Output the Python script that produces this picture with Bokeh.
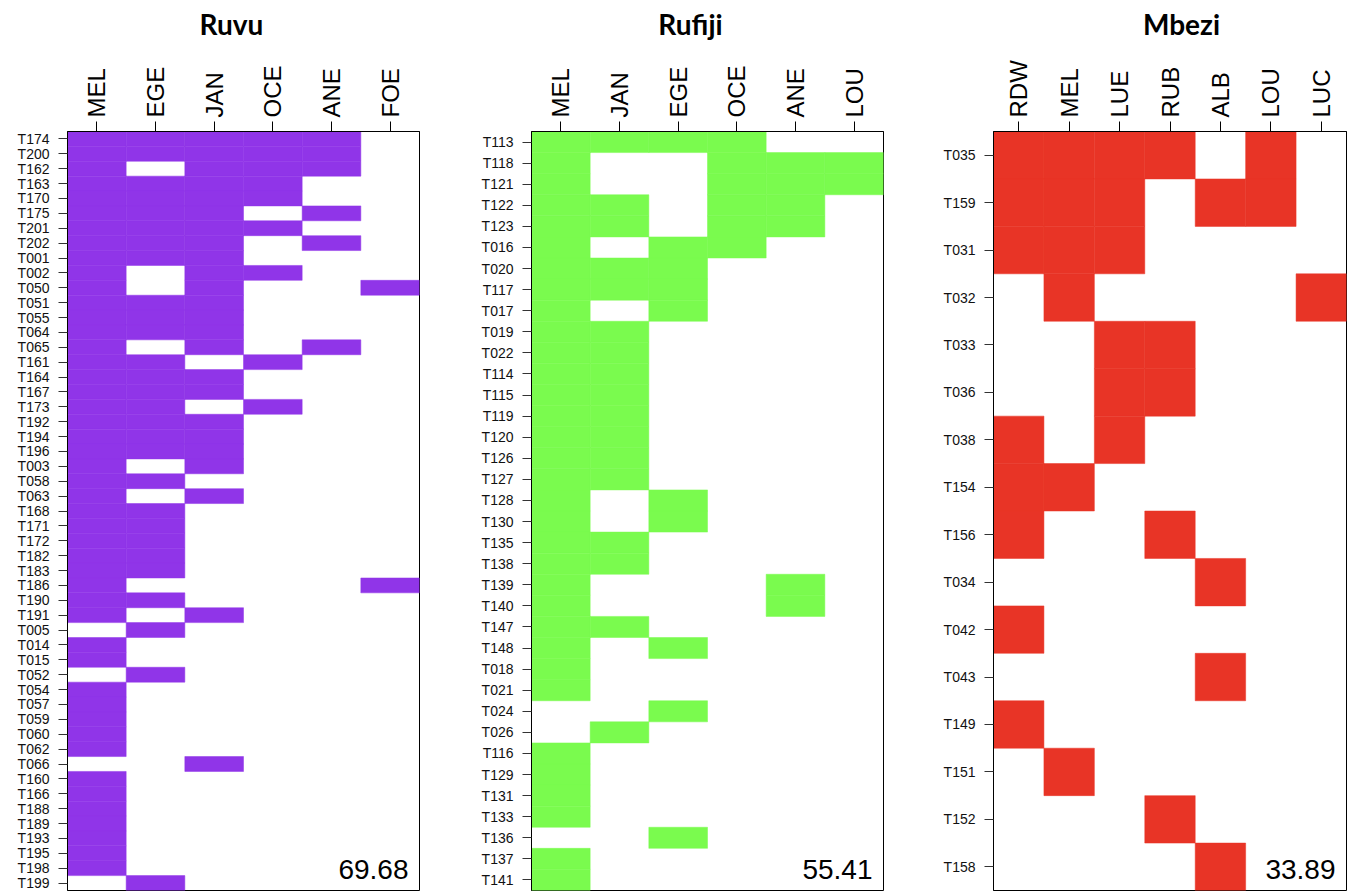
from bokeh.plotting import figure
from bokeh.models import FactorRange, Label, Range1d
from bokeh.layouts import row, column
from bokeh.embed import file_html
from bokeh.resources import INLINE
from bokeh.core.properties import value

# ---------------- data ----------------
ruvu_cols = ["MEL", "EGE", "JAN", "OCE", "ANE", "FOE"]
ruvu_rows = ["T174", "T200", "T162", "T163", "T170", "T175", "T201", "T202", "T001", "T002",
             "T050", "T051", "T055", "T064", "T065", "T161", "T164", "T167", "T173", "T192",
             "T194", "T196", "T003", "T058", "T063", "T168", "T171", "T172", "T182", "T183",
             "T186", "T190", "T191", "T005", "T014", "T015", "T052", "T054", "T057", "T059",
             "T060", "T062", "T066", "T160", "T166", "T188", "T189", "T193", "T195", "T198",
             "T199"]
ruvu_cells = [
    [1, 1, 1, 1, 1, 0], [1, 1, 1, 1, 1, 0], [1, 0, 1, 1, 1, 0], [1, 1, 1, 1, 0, 0],
    [1, 1, 1, 1, 0, 0], [1, 1, 1, 0, 1, 0], [1, 1, 1, 1, 0, 0], [1, 1, 1, 0, 1, 0],
    [1, 1, 1, 0, 0, 0], [1, 0, 1, 1, 0, 0], [1, 0, 1, 0, 0, 1], [1, 1, 1, 0, 0, 0],
    [1, 1, 1, 0, 0, 0], [1, 1, 1, 0, 0, 0], [1, 0, 1, 0, 1, 0], [1, 1, 0, 1, 0, 0],
    [1, 1, 1, 0, 0, 0], [1, 1, 1, 0, 0, 0], [1, 1, 0, 1, 0, 0], [1, 1, 1, 0, 0, 0],
    [1, 1, 1, 0, 0, 0], [1, 1, 1, 0, 0, 0], [1, 0, 1, 0, 0, 0], [1, 1, 0, 0, 0, 0],
    [1, 0, 1, 0, 0, 0], [1, 1, 0, 0, 0, 0], [1, 1, 0, 0, 0, 0], [1, 1, 0, 0, 0, 0],
    [1, 1, 0, 0, 0, 0], [1, 1, 0, 0, 0, 0], [1, 0, 0, 0, 0, 1], [1, 1, 0, 0, 0, 0],
    [1, 0, 1, 0, 0, 0], [0, 1, 0, 0, 0, 0], [1, 0, 0, 0, 0, 0], [1, 0, 0, 0, 0, 0],
    [0, 1, 0, 0, 0, 0], [1, 0, 0, 0, 0, 0], [1, 0, 0, 0, 0, 0], [1, 0, 0, 0, 0, 0],
    [1, 0, 0, 0, 0, 0], [1, 0, 0, 0, 0, 0], [0, 0, 1, 0, 0, 0], [1, 0, 0, 0, 0, 0],
    [1, 0, 0, 0, 0, 0], [1, 0, 0, 0, 0, 0], [1, 0, 0, 0, 0, 0], [1, 0, 0, 0, 0, 0],
    [1, 0, 0, 0, 0, 0], [1, 0, 0, 0, 0, 0], [0, 1, 0, 0, 0, 0],
]
ruvu_value = "69.68"

rufiji_cols = ["MEL", "JAN", "EGE", "OCE", "ANE", "LOU"]
rufiji_rows = ["T113", "T118", "T121", "T122", "T123", "T016", "T020", "T117", "T017", "T019",
               "T022", "T114", "T115", "T119", "T120", "T126", "T127", "T128", "T130", "T135",
               "T138", "T139", "T140", "T147", "T148", "T018", "T021", "T024", "T026", "T116",
               "T129", "T131", "T133", "T136", "T137", "T141"]
rufiji_cells = [
    [1, 1, 1, 1, 0, 0], [1, 0, 0, 1, 1, 1], [1, 0, 0, 1, 1, 1], [1, 1, 0, 1, 1, 0],
    [1, 1, 0, 1, 1, 0], [1, 0, 1, 1, 0, 0], [1, 1, 1, 0, 0, 0], [1, 1, 1, 0, 0, 0],
    [1, 0, 1, 0, 0, 0], [1, 1, 0, 0, 0, 0], [1, 1, 0, 0, 0, 0], [1, 1, 0, 0, 0, 0],
    [1, 1, 0, 0, 0, 0], [1, 1, 0, 0, 0, 0], [1, 1, 0, 0, 0, 0], [1, 1, 0, 0, 0, 0],
    [1, 1, 0, 0, 0, 0], [1, 0, 1, 0, 0, 0], [1, 0, 1, 0, 0, 0], [1, 1, 0, 0, 0, 0],
    [1, 1, 0, 0, 0, 0], [1, 0, 0, 0, 1, 0], [1, 0, 0, 0, 1, 0], [1, 1, 0, 0, 0, 0],
    [1, 0, 1, 0, 0, 0], [1, 0, 0, 0, 0, 0], [1, 0, 0, 0, 0, 0], [0, 0, 1, 0, 0, 0],
    [0, 1, 0, 0, 0, 0], [1, 0, 0, 0, 0, 0], [1, 0, 0, 0, 0, 0], [1, 0, 0, 0, 0, 0],
    [1, 0, 0, 0, 0, 0], [0, 0, 1, 0, 0, 0], [1, 0, 0, 0, 0, 0], [1, 0, 0, 0, 0, 0],
]
rufiji_value = "55.41"

mbezi_cols = ["RDW", "MEL", "LUE", "RUB", "ALB", "LOU", "LUC"]
mbezi_rows = ["T035", "T159", "T031", "T032", "T033", "T036", "T038", "T154", "T156", "T034",
              "T042", "T043", "T149", "T151", "T152", "T158"]
mbezi_cells = [
    [1, 1, 1, 1, 0, 1, 0], [1, 1, 1, 0, 1, 1, 0], [1, 1, 1, 0, 0, 0, 0], [0, 1, 0, 0, 0, 0, 1],
    [0, 0, 1, 1, 0, 0, 0], [0, 0, 1, 1, 0, 0, 0], [1, 0, 1, 0, 0, 0, 0], [1, 1, 0, 0, 0, 0, 0],
    [1, 0, 0, 1, 0, 0, 0], [0, 0, 0, 0, 1, 0, 0], [1, 0, 0, 0, 0, 0, 0], [0, 0, 0, 0, 1, 0, 0],
    [1, 0, 0, 0, 0, 0, 0], [0, 1, 0, 0, 0, 0, 0], [0, 0, 0, 1, 0, 0, 0], [0, 0, 0, 0, 1, 0, 0],
]
mbezi_value = "33.89"

panel_titles = ["Ruvu", "Rufiji", "Mbezi"]
panel_colors = ["#9035E8", "#7AFB4E", "#E83426"]

FRAME_H = 759
TITLE_H = 50
TOP = 81   # border above frame inside the heatmap figure (frame top at 131 on page)


def make_title(title, title_x, width):
    t = figure(width=width, height=TITLE_H, x_range=Range1d(0, width), y_range=Range1d(0, TITLE_H),
               x_axis_type=None, y_axis_type=None, toolbar_location=None, tools="",
               min_border=0, output_backend="svg", border_fill_color="white")
    t.outline_line_color = None
    t.xgrid.grid_line_color = None
    t.ygrid.grid_line_color = None
    t.text(x=[title_x], y=[TITLE_H - 23], text=[title], text_font=value("Lato"),
           text_font_style="bold", text_font_size=value("28px"), text_color="black",
           text_align="center", text_baseline="middle")
    return t


def make_panel(cols, rows, cells, color, val, left, frame_w, right):
    p = figure(x_range=FactorRange(factors=cols), y_range=FactorRange(factors=rows[::-1]),
               frame_width=frame_w, frame_height=FRAME_H, title=None,
               min_border_left=left, min_border_right=right,
               min_border_top=TOP, min_border_bottom=1,
               x_axis_location="above", toolbar_location=None, tools="",
               output_backend="svg", background_fill_color="white",
               border_fill_color="white")
    xs, ys = [], []
    for r, vals in zip(rows, cells):
        for c, v in zip(cols, vals):
            if v:
                xs.append(c)
                ys.append(r)
    p.rect(x=xs, y=ys, width=1, height=1, fill_color=color,
           line_color=color, line_width=0.5)

    p.xgrid.grid_line_color = None
    p.ygrid.grid_line_color = None
    p.outline_line_color = "black"
    p.outline_line_width = 1
    p.outline_line_alpha = 1

    ax = p.xaxis[0]
    ax.major_label_orientation = "vertical"
    ax.major_tick_out = 10
    ax.major_tick_in = 0
    ax.major_label_standoff = 4
    ax.major_label_text_font = "Liberation Sans"
    ax.major_label_text_font_size = "24px"
    ax.major_label_text_color = "black"
    ax.axis_line_color = "black"
    ax.major_tick_line_color = "black"

    ay = p.yaxis[0]
    ay.major_tick_out = 9
    ay.major_tick_in = 0
    ay.major_label_standoff = 9
    ay.major_label_text_font = "Liberation Sans"
    ay.major_label_text_font_size = "14px"
    ay.major_label_text_color = "#111111"
    ay.axis_line_color = "black"
    ay.major_tick_line_color = "#333333"

    # statistic in the lower right corner
    p.add_layout(Label(x=len(cols), y=0, x_offset=-11, y_offset=21,
                       text=val, text_align="right", text_baseline="middle",
                       text_font="Liberation Sans", text_font_size="28px",
                       text_color="black"))
    return p


t1 = make_title(panel_titles[0], 231, 471)
t2 = make_title(panel_titles[1], 219, 462)
t3 = make_title(panel_titles[2], 248, 416)

p1 = make_panel(ruvu_cols, ruvu_rows, ruvu_cells, panel_colors[0], ruvu_value, 67, 352, 52)
p2 = make_panel(rufiji_cols, rufiji_rows, rufiji_cells, panel_colors[1], rufiji_value, 60, 352, 50)
p3 = make_panel(mbezi_cols, mbezi_rows, mbezi_cells, panel_colors[2], mbezi_value, 60, 353, 3)

layout = column(row(t1, t2, t3, spacing=0), row(p1, p2, p3, spacing=0), spacing=0)
open("out.html", "w").write(file_html(layout, INLINE))
